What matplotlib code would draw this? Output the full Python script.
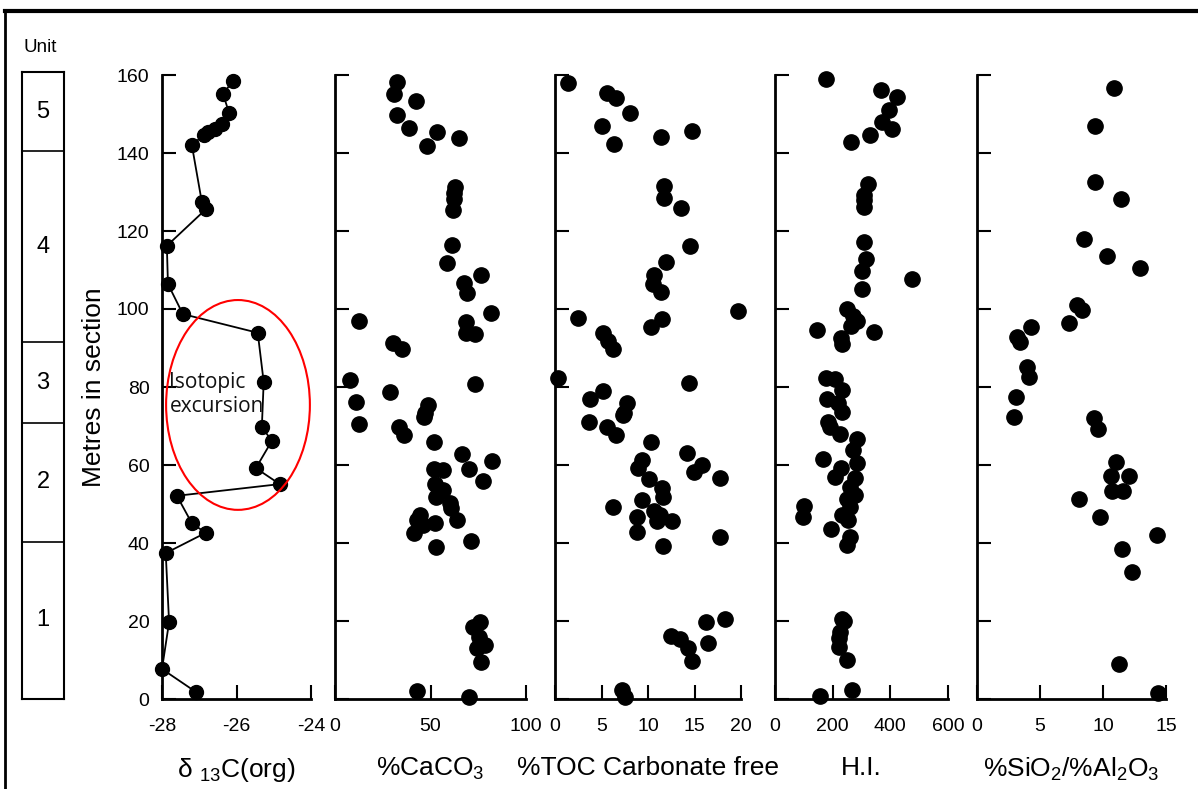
# Perfil estratigráfico: d13C, CaCO3, TOC, H.I. y SiO2/Al2O3 frente a la profundidad

import matplotlib.pyplot as plt
from matplotlib.patches import Ellipse
from matplotlib.lines import Line2D

plt.rcParams['font.family'] = ['Liberation Sans', 'DejaVu Sans']
plt.rcParams['axes.unicode_minus'] = False
plt.rcParams['mathtext.fontset'] = 'custom'
plt.rcParams['mathtext.rm'] = 'Liberation Sans'
plt.rcParams['mathtext.it'] = 'Liberation Sans'
plt.rcParams['mathtext.default'] = 'regular'

# Datos: delta 13C (org)
d13c_m = [158.5, 155.1, 150.3, 147.4, 146.2, 145.4, 144.6, 142.1, 127.4, 125.6,
          116.2, 106.4, 98.7, 93.9, 81.3, 69.7, 66.2, 59.2, 55.1, 52.1,
          45.1, 42.6, 37.4, 19.7, 7.7, 1.8]
d13c_v = [-26.10, -26.36, -26.20, -26.39, -26.58, -26.77, -26.87, -27.20, -26.93, -26.82,
          -27.87, -27.84, -27.44, -25.43, -25.27, -25.32, -25.05, -25.48, -24.84, -27.60,
          -27.20, -26.83, -27.90, -27.81, -28.00, -27.09]

# %CaCO3
caco3_m = [158.2, 155.1, 153.3, 149.7, 146.4, 145.4, 143.8, 141.8, 131.3, 129.7,
           128.2, 125.4, 116.4, 111.8, 108.7, 106.7, 104.1, 99.0, 96.9, 96.7,
           93.8, 93.6, 91.3, 89.7, 81.8, 80.8, 78.7, 76.2, 75.4, 73.3,
           72.3, 70.5, 69.7, 67.7, 65.9, 62.8, 61.0, 59.0, 58.7, 59.0,
           55.9, 55.1, 53.6, 51.8, 50.3, 49.0, 45.9, 47.2, 45.9, 45.1,
           44.6, 42.6, 40.5, 39.0, 19.7, 18.5, 15.9, 13.1, 13.8, 9.5,
           2.1, 0.4]
caco3_v = [32.5, 30.9, 42.4, 32.5, 38.7, 53.4, 64.9, 48.2, 62.8, 62.3,
           62.3, 61.8, 61.3, 58.6, 76.4, 67.5, 69.1, 81.7, 12.6, 68.6,
           68.6, 73.3, 30.4, 35.1, 7.9, 73.3, 28.8, 11.0, 48.7, 47.1,
           46.6, 12.6, 33.5, 36.1, 51.8, 66.5, 82.2, 51.8, 56.5, 70.2,
           77.5, 52.4, 56.5, 52.9, 60.2, 60.7, 63.9, 44.5, 42.9, 52.4,
           46.1, 41.4, 71.2, 52.9, 75.9, 72.3, 75.4, 74.3, 78.5, 76.4,
           42.9, 70.2]

# %TOC libre de carbonatos
toc_m = [157.9, 155.4, 154.1, 150.3, 146.9, 142.3, 144.1, 145.6, 131.5, 128.5,
         125.9, 116.2, 112.1, 108.7, 106.4, 104.4, 99.5, 97.7, 97.4, 95.4,
         93.8, 91.8, 89.7, 82.3, 81.0, 79.0, 76.9, 75.9, 73.3, 72.8,
         71.0, 69.7, 67.7, 65.9, 63.1, 60.0, 58.2, 56.7, 61.3, 59.2,
         56.4, 54.1, 51.8, 51.0, 49.2, 48.2, 47.2, 46.7, 45.6, 45.6,
         42.8, 41.5, 39.2, 19.7, 20.5, 16.2, 15.4, 13.1, 14.4, 9.7,
         2.3, 0.4]
toc_v = [1.4, 5.6, 6.6, 8.1, 5.1, 6.3, 11.4, 14.7, 11.7, 11.7,
         13.5, 14.5, 11.9, 10.6, 10.5, 11.4, 19.7, 2.5, 11.5, 10.3,
         5.2, 5.7, 6.2, 0.3, 14.4, 5.2, 3.8, 7.7, 7.4, 7.3,
         3.7, 5.6, 6.6, 10.3, 14.2, 15.8, 14.9, 17.7, 9.4, 8.9,
         10.1, 11.5, 11.6, 9.4, 6.2, 10.6, 11.3, 8.8, 11.0, 12.6,
         8.8, 17.7, 11.6, 16.2, 18.3, 12.5, 13.4, 14.3, 16.5, 14.7,
         7.2, 7.5]

# Indice de hidrogeno (H.I.)
hi_m = [159.0, 156.2, 154.4, 151.0, 147.9, 146.2, 144.6, 142.8, 132.1, 129.2,
        127.9, 126.2, 117.2, 112.8, 109.7, 107.7, 105.1, 100.0, 98.2, 96.9,
        95.6, 94.6, 94.1, 92.6, 91.0, 82.3, 82.1, 79.2, 76.9, 75.9,
        73.6, 71.0, 69.7, 67.9, 66.7, 63.8, 61.5, 60.5, 59.2, 56.9,
        56.7, 54.4, 52.3, 51.3, 49.2, 49.5, 46.7, 47.2, 45.9, 43.6,
        41.5, 39.5, 20.5, 20.0, 17.2, 15.6, 13.3, 10.0, 2.3, 0.8]
hi_v = [176, 369, 424, 397, 372, 407, 331, 262, 321, 307,
        310, 307, 307, 317, 300, 476, 303, 248, 272, 283,
        262, 145, 345, 228, 234, 176, 207, 231, 179, 217,
        234, 183, 190, 224, 283, 272, 166, 286, 228, 207,
        276, 259, 276, 248, 259, 100, 97, 231, 252, 193,
        259, 248, 231, 241, 224, 221, 221, 248, 266, 155]

# %SiO2/%Al2O3
si_m = [156.7, 146.9, 132.6, 128.2, 117.9, 113.6, 110.5, 101.0, 99.7, 96.4,
        95.4, 92.8, 91.5, 85.1, 82.6, 77.4, 72.3, 72.1, 69.2, 60.8,
        57.2, 57.2, 53.3, 53.3, 51.3, 46.7, 42.1, 38.5, 32.6, 9.0,
        1.5]
si_v = [10.9, 9.4, 9.4, 11.4, 8.5, 10.3, 12.9, 7.9, 8.3, 7.3,
        4.3, 3.2, 3.4, 4.0, 4.1, 3.1, 2.9, 9.3, 9.6, 11.0,
        10.6, 12.1, 10.7, 11.6, 8.1, 9.8, 14.3, 11.5, 12.3, 11.3,
        14.4]

# Unidades estratigraficas (limites en metros)
unit_edges = [0, 40.3, 70.8, 91.5, 140.5, 160.8]
unit_names = ['1', '2', '3', '4', '5']

y_ticks = [0, 20, 40, 60, 80, 100, 120, 140, 160]

fig = plt.figure(figsize=(11.98, 7.89), dpi=100)
W, H = 1198, 789


def rect(x0, x1, y_top=75, y_bot=699):
    return [x0 / W, (H - y_bot) / H, (x1 - x0) / W, (y_bot - y_top) / H]


tick_fs = 14
label_fs = 19

panels = [
    (rect(162, 311), (-28, -24), [-28, -26, -24], d13c_v, d13c_m, r'δ $_{13}$C(org)'),
    (rect(335, 526), (0, 100), [0, 50, 100], caco3_v, caco3_m, r'%CaCO$_3$'),
    (rect(555, 741), (0, 20), [0, 5, 10, 15, 20], toc_v, toc_m, '%TOC Carbonate free'),
    (rect(775, 948), (0, 600), [0, 200, 400, 600], hi_v, hi_m, 'H.I.'),
    (rect(977, 1166), (0, 15), [0, 5, 10, 15], si_v, si_m, r'%SiO$_2$/%Al$_2$O$_3$'),
]

axes = []
for i, (pos, xl, xt, xv, ym, lab) in enumerate(panels):
    ax = fig.add_axes(pos)
    ax.set_xlim(*xl)
    ax.set_ylim(0, 160)
    ax.set_xticks(xt)
    ax.set_yticks(y_ticks)
    ax.spines['top'].set_visible(False)
    ax.spines['right'].set_visible(False)
    ax.spines['left'].set_linewidth(2)
    ax.spines['bottom'].set_linewidth(2)
    ax.tick_params(direction='in', length=10, width=1.5, labelsize=tick_fs)
    ax.tick_params(axis='x', pad=14)
    ax.tick_params(axis='y', pad=9)
    if i > 0:
        ax.set_yticklabels([])
    if i == 0:
        ax.plot(xv, ym, color='black', lw=1.3, marker='o', ms=10, zorder=3, clip_on=False)
    else:
        ax.plot(xv, ym, 'o', color='black', ms=11, zorder=3, clip_on=False)
    ax.set_xlabel(lab, fontsize=label_fs, labelpad=15)
    axes.append(ax)

axes[0].set_ylabel('Metres in section', fontsize=label_fs, labelpad=8)

# Columna de unidades
ax_u = fig.add_axes(rect(22, 64, y_top=72, y_bot=699))
ax_u.set_xlim(0, 1)
ax_u.set_ylim(0, 160.8)
ax_u.set_xticks([])
ax_u.set_yticks([])
for s in ax_u.spines.values():
    s.set_linewidth(1.5)
for k, name in enumerate(unit_names):
    if k > 0:
        ax_u.axhline(unit_edges[k], color='black', lw=1.2)
    mid = (unit_edges[k] + unit_edges[k + 1]) / 2
    ax_u.text(0.5, mid, name, ha='center', va='center', fontsize=17)
fig.text(40 / W, 1 - 47 / H, 'Unit', ha='center', va='center', fontsize=13.5)

# Elipse roja: excursion isotopica
ax1 = axes[0]
ax1.add_patch(Ellipse((-25.96, 75.4), 3.86, 53.8, fill=False, edgecolor='red',
                      lw=1.5, clip_on=False, zorder=4))
ax1.text(-27.8, 78, 'Isotopic\nexcursion', fontsize=15, family=['Open Sans', 'DejaVu Sans'],
         color='#111111', ha='left', va='center', linespacing=1.2, zorder=5)

# Marco exterior
fig.add_artist(Line2D([5 / W, 1], [1 - 11 / H, 1 - 11 / H], color='black', lw=3))
fig.add_artist(Line2D([5 / W, 5 / W], [0, 1 - 11 / H], color='black', lw=2))

fig.savefig('out.png', dpi=100, facecolor='white')
